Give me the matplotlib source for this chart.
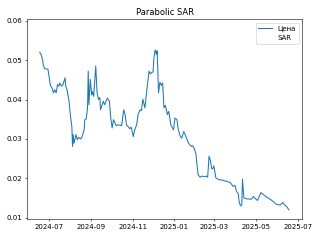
import numpy as np
import pandas as pd
import matplotlib
matplotlib.use("Agg")
import matplotlib.pyplot as plt
import matplotlib.dates as mdates

# price readings (date, close) taken off the chart
dates = [
    "2024-06-18", "2024-06-20", "2024-06-22", "2024-06-23", "2024-06-25", "2024-06-28",
    "2024-06-30", "2024-07-03", "2024-07-04", "2024-07-06", "2024-07-08", "2024-07-10",
    "2024-07-12", "2024-07-14", "2024-07-16", "2024-07-17", "2024-07-20", "2024-07-22",
    "2024-07-25", "2024-07-26", "2024-07-28", "2024-07-30", "2024-07-31", "2024-08-02",
    "2024-08-04", "2024-08-05", "2024-08-06", "2024-08-07", "2024-08-10", "2024-08-12",
    "2024-08-14", "2024-08-17", "2024-08-19", "2024-08-22", "2024-08-23", "2024-08-25",
    "2024-08-27", "2024-08-28", "2024-08-29", "2024-08-31", "2024-09-02", "2024-09-03",
    "2024-09-05", "2024-09-08", "2024-09-10", "2024-09-12", "2024-09-14", "2024-09-15",
    "2024-09-19", "2024-09-21", "2024-09-25", "2024-09-28", "2024-09-30", "2024-10-02",
    "2024-10-04", "2024-10-08", "2024-10-12", "2024-10-16", "2024-10-19", "2024-10-21",
    "2024-10-23", "2024-10-25", "2024-10-28", "2024-10-30", "2024-11-02", "2024-11-04",
    "2024-11-07", "2024-11-09", "2024-11-12", "2024-11-14", "2024-11-16", "2024-11-19",
    "2024-11-23", "2024-11-25", "2024-11-27", "2024-11-29", "2024-12-01", "2024-12-02",
    "2024-12-04", "2024-12-06", "2024-12-07", "2024-12-09", "2024-12-11", "2024-12-13",
    "2024-12-15", "2024-12-17", "2024-12-19", "2024-12-22", "2024-12-24", "2024-12-27",
    "2024-12-31", "2025-01-02", "2025-01-05", "2025-01-07", "2025-01-10", "2025-01-12",
    "2025-01-15", "2025-01-17", "2025-01-20", "2025-01-22", "2025-01-26", "2025-01-28",
    "2025-01-31", "2025-02-02", "2025-02-03", "2025-02-05", "2025-02-08", "2025-02-11",
    "2025-02-14", "2025-02-17", "2025-02-19", "2025-02-21", "2025-02-23", "2025-02-25",
    "2025-02-27", "2025-02-28", "2025-03-03", "2025-03-06", "2025-03-09", "2025-03-12",
    "2025-03-15", "2025-03-18", "2025-03-21", "2025-03-24", "2025-03-26", "2025-03-28",
    "2025-03-31", "2025-04-02", "2025-04-05", "2025-04-06", "2025-04-08", "2025-04-10",
    "2025-04-11", "2025-04-13", "2025-04-17", "2025-04-20", "2025-04-24", "2025-04-27",
    "2025-04-29", "2025-05-03", "2025-05-08", "2025-05-11", "2025-05-16", "2025-05-21",
    "2025-05-26", "2025-05-30", "2025-06-02", "2025-06-06", "2025-06-09", "2025-06-12",
    "2025-06-15", "2025-06-18",
]
price = [
    0.0520, 0.0514, 0.0502, 0.0489, 0.0478, 0.0478,
    0.0477, 0.0442, 0.0434, 0.0430, 0.0417, 0.0425,
    0.0417, 0.0438, 0.0434, 0.0442, 0.0434, 0.0438,
    0.0455, 0.0434, 0.0425, 0.0404, 0.0396, 0.0357,
    0.0332, 0.0281, 0.0311, 0.0289, 0.0311, 0.0298,
    0.0304, 0.0300, 0.0306, 0.0323, 0.0349, 0.0351,
    0.0379, 0.0472, 0.0387, 0.0451, 0.0412, 0.0421,
    0.0408, 0.0485, 0.0417, 0.0400, 0.0405, 0.0374,
    0.0396, 0.0387, 0.0404, 0.0396, 0.0354, 0.0328,
    0.0349, 0.0334, 0.0336, 0.0334, 0.0374, 0.0362,
    0.0336, 0.0332, 0.0326, 0.0330, 0.0306, 0.0323,
    0.0336, 0.0362, 0.0374, 0.0372, 0.0401, 0.0379,
    0.0442, 0.0472, 0.0465, 0.0469, 0.0470, 0.0502,
    0.0526, 0.0515, 0.0524, 0.0417, 0.0444, 0.0436,
    0.0442, 0.0379, 0.0385, 0.0362, 0.0370, 0.0336,
    0.0323, 0.0353, 0.0349, 0.0323, 0.0306, 0.0302,
    0.0319, 0.0311, 0.0298, 0.0289, 0.0281, 0.0283,
    0.0273, 0.0260, 0.0239, 0.0209, 0.0203, 0.0206,
    0.0204, 0.0206, 0.0203, 0.0256, 0.0245, 0.0224,
    0.0226, 0.0232, 0.0201, 0.0198, 0.0196, 0.0196,
    0.0194, 0.0193, 0.0191, 0.0190, 0.0185, 0.0180,
    0.0182, 0.0168, 0.0160, 0.0142, 0.0130, 0.0133,
    0.0198, 0.0150, 0.0148, 0.0148, 0.0147, 0.0154,
    0.0150, 0.0144, 0.0164, 0.0160, 0.0153, 0.0148,
    0.0141, 0.0135, 0.0133, 0.0133, 0.0139, 0.0132,
    0.0128, 0.0120,
]

x = pd.to_datetime(dates)

fig = plt.figure(figsize=(6.4, 4.8), dpi=50)
ax = fig.add_subplot(111)
fig.subplots_adjust(left=0.085, right=0.945, top=0.92, bottom=0.086)

ax.plot(x, price, label="Цена")
ax.plot([], [], linestyle="none", label="SAR")

ax.set_title("Parabolic SAR")
ax.set_ylim(0.0096, 0.0604)
ax.set_yticks([0.01, 0.02, 0.03, 0.04, 0.05, 0.06])
ax.set_xlim(pd.Timestamp("2024-05-30 14:00"), pd.Timestamp("2025-07-07 19:00"))
ax.xaxis.set_major_locator(mdates.MonthLocator(bymonth=[1, 3, 5, 7, 9, 11]))
ax.xaxis.set_major_formatter(mdates.DateFormatter("%Y-%m"))
ax.legend(loc="upper right")

fig.savefig("out.png", dpi=50)
